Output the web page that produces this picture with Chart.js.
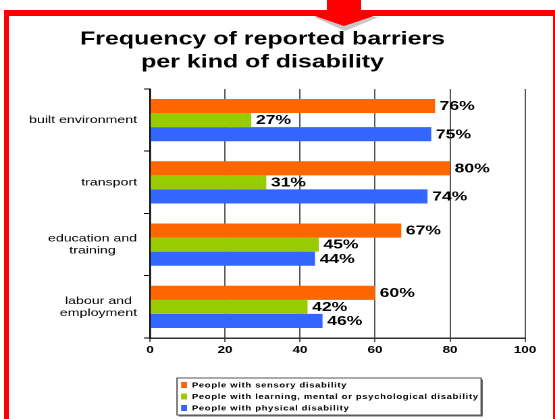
<!DOCTYPE html>
<html>
<head>
<meta charset="utf-8">
<script src="https://cdn.jsdelivr.net/npm/chart.js@4.4.1/dist/chart.umd.min.js"></script>
<style>
    html, body { margin: 0; padding: 0; background: #fff; }
    body { width: 555px; height: 419px; position: relative; overflow: hidden; }
    /* the original slide is stretched sideways, so the chart is drawn narrow and widened */
    #wrap { position: absolute; left: 0; top: 0; width: 411px; height: 419px; transform: scaleX(1.3504); transform-origin: 0 0; }
    #frame { position: absolute; left: 4px; top: 10px; width: 554px; height: 440px; box-sizing: border-box; border: 5px solid #ff0000; border-top-width: 6px; }
    #arrow { position: absolute; left: 0; top: 0; }
</style>
</head>
<body>
<div id="wrap"><canvas id="chartBarriers"></canvas></div>
<div id="frame"></div>
<svg id="arrow" width="555" height="40">
    <polygon points="314,17 379,17 345,31" fill="#c8c8c8" />
    <rect x="327" y="0" width="34" height="17" fill="#ff0000" />
    <polygon points="312,15 377,15 344,26" fill="#ff0000" />
</svg>
<script>
const categories = ['built environment', 'transport', ['education and', 'training'], ['labour and', 'employment']];
const seriesNames = ['People with sensory disability', 'People with learning, mental or psychological disability', 'People with physical disability'];
const sensory = [76, 80, 67, 60];
const learning = [27, 31, 45, 42];
const physical = [75, 74, 44, 46];
const xMax = 100;
const xStep = 20;

const FONT = "'Liberation Sans', Arial, sans-serif";
const arrColor = ['#ff6600', '#99cc00', '#3366ff'];

// category names, right aligned block, lines centered to each other
const categoryLabels = {
    id: 'categoryLabels',
    afterDraw: function (chart) {
        const { ctx, scales: { y } } = chart;
        ctx.save();
        ctx.font = '10.5px ' + FONT;
        ctx.fillStyle = '#000';
        ctx.textAlign = 'center';
        ctx.textBaseline = 'middle';
        const right = y.right - 9.6;
        categories.forEach((label, i) => {
            const lines = [].concat(label);
            const w = Math.max(...lines.map(l => ctx.measureText(l).width));
            const cy = y.getPixelForValue(i);
            lines.forEach((line, k) => {
                ctx.fillText(line, right - w / 2, cy + (k - (lines.length - 1) / 2) * 12);
            });
        });
        ctx.restore();
    }
};

// "76%" labels at the end of each bar
const valueLabels = {
    id: 'valueLabels',
    afterDatasetsDraw: function (chart) {
        const { ctx } = chart;
        ctx.save();
        ctx.font = 'bold 13px ' + FONT;
        ctx.fillStyle = '#000';
        ctx.textAlign = 'left';
        ctx.textBaseline = 'middle';
        chart.data.datasets.forEach((dataset, di) => {
            chart.getDatasetMeta(di).data.forEach((bar, i) => {
                ctx.fillText(dataset.data[i] + '%', bar.x + 3.4, bar.y + 0.5);
            });
        });
        ctx.restore();
    }
};

// boxed legend under the axis
const boxLegend = {
    id: 'boxLegend',
    afterDraw: function (chart) {
        const { ctx } = chart;
        const left = 131.1, top = 378, w = 225.2, h = 37;
        ctx.save();
        ctx.fillStyle = '#666';
        ctx.fillRect(left + 1.2, top + 1.5, w, h);
        ctx.fillStyle = '#fff';
        ctx.fillRect(left, top, w, h);
        ctx.strokeStyle = '#555';
        ctx.lineWidth = 1;
        ctx.strokeRect(left, top, w, h);

        ctx.font = 'bold 7px ' + FONT;
        ctx.letterSpacing = '0.5px';
        ctx.textAlign = 'left';
        ctx.textBaseline = 'middle';
        chart.data.datasets.forEach((dataset, i) => {
            const cy = top + 7 + i * 11.5;
            ctx.fillStyle = dataset.backgroundColor;
            ctx.fillRect(left + 3, cy - 3, 4.4, 6);
            ctx.fillStyle = '#000';
            ctx.fillText(dataset.label, left + 11, cy + 0.5);
        });
        ctx.restore();
    }
};

const seriesData = [sensory, learning, physical];
let objDatasets = [];
for (let h = 0; h < seriesNames.length; h++) {
    objDatasets.push({
        label: seriesNames[h],
        data: seriesData[h],
        backgroundColor: arrColor[h],
        borderWidth: 0,
        categoryPercentage: 0.68,
        barPercentage: 1
    });
}

let ctx_barriers = document.getElementById('chartBarriers').getContext('2d');

let barriersChart = new Chart(ctx_barriers, {
    type: 'bar',
    data: {
        labels: categories,
        datasets: objDatasets
    },
    plugins: [categoryLabels, valueLabels, boxLegend],
    options: {
        indexAxis: 'y',
        responsive: true,
        maintainAspectRatio: false,
        animation: false,
        devicePixelRatio: 2,
        layout: {
            padding: { top: 0, left: 0, right: 22.2, bottom: 0 }
        },
        plugins: {
            legend: { display: false },
            tooltip: { enabled: false },
            title: {
                display: true,
                text: ['Frequency of reported barriers', 'per kind of disability'],
                color: '#000',
                font: { family: FONT, size: 18.5, weight: 'bold', lineHeight: 1.243 },
                padding: { top: 28, bottom: 15 }
            }
        },
        scales: {
            x: {
                min: 0,
                max: xMax,
                afterFit: function (scale) { scale.height = 81; },
                ticks: {
                    stepSize: xStep,
                    color: '#000',
                    padding: 2,
                    font: { family: FONT, size: 10, weight: 'bold' }
                },
                grid: {
                    color: '#555',
                    lineWidth: 1,
                    tickLength: 4
                },
                border: { color: '#333', width: 1.5 }
            },
            y: {
                afterFit: function (scale) { scale.width = 111.1; },
                ticks: { display: false },
                grid: {
                    drawOnChartArea: false,
                    drawTicks: true,
                    tickLength: 4.5,
                    color: '#000',
                    lineWidth: 1
                },
                border: { color: '#000', width: 1.3 }
            }
        }
    }
});
</script>
</body>
</html>
